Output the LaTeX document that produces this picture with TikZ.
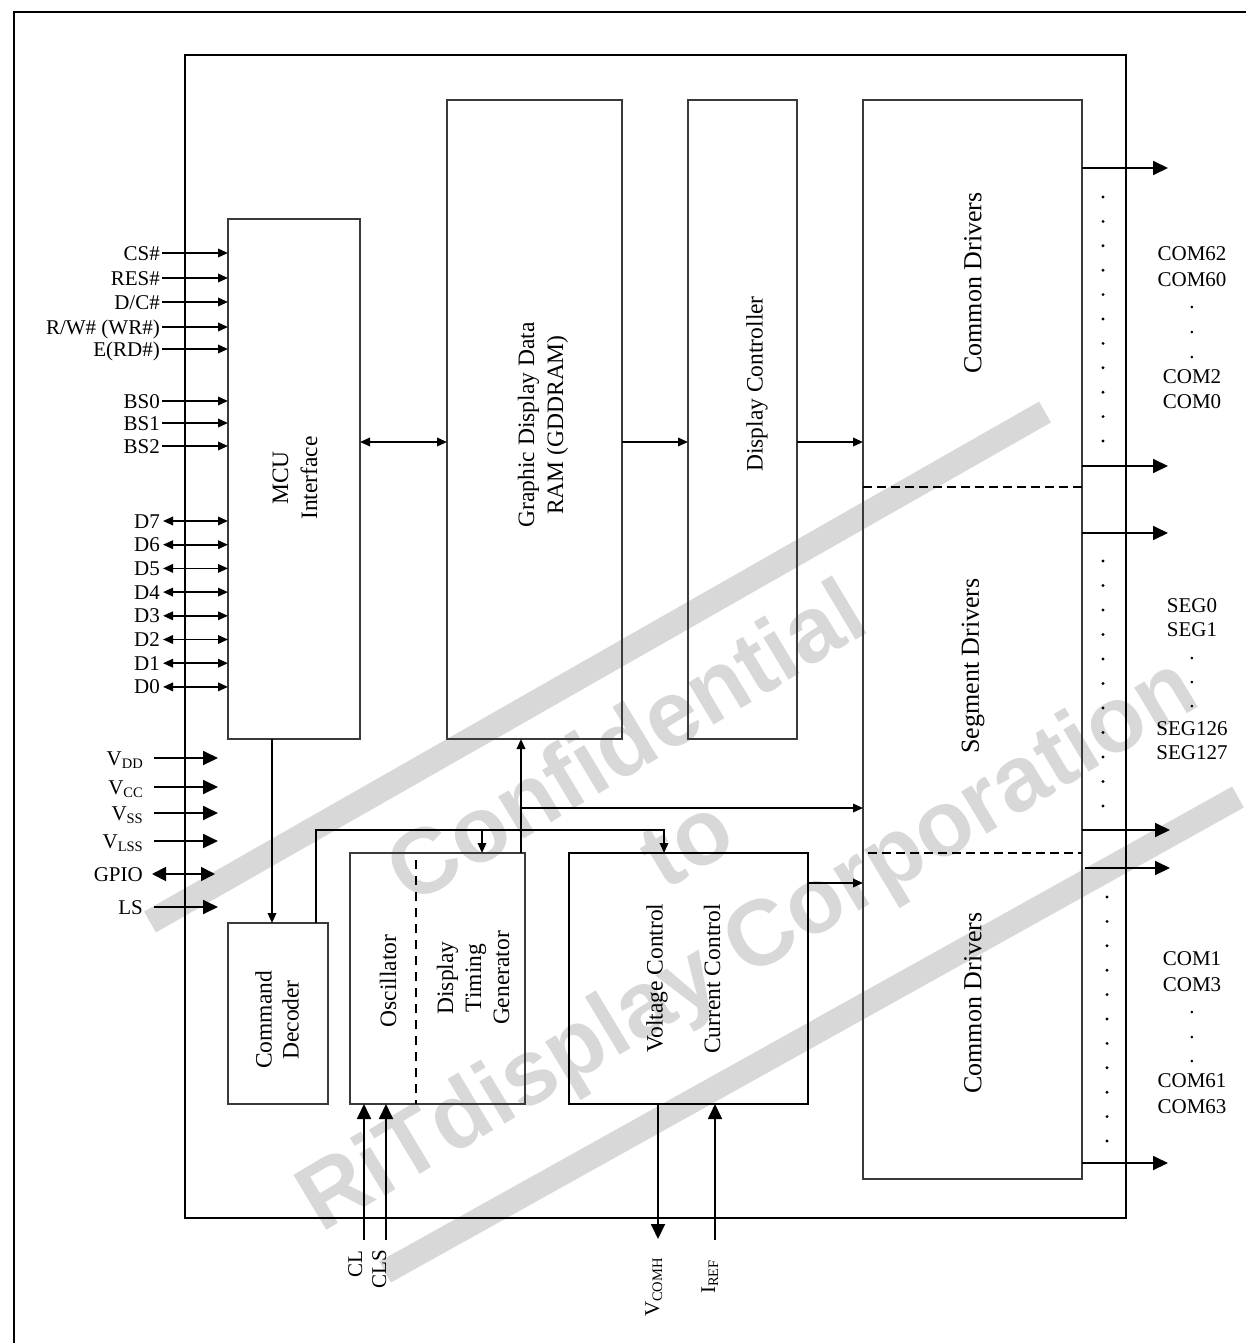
\documentclass[tikz,border=0pt]{standalone}
\usepackage{fontspec}
\setmainfont{Liberation Serif}
\newfontfamily\wmfont{Liberation Sans}
\usetikzlibrary{arrows.meta}
\newcommand\lsub[1]{\raisebox{-3pt}{\fontsize{14.5}{15}\selectfont #1}}
\definecolor{wmgray}{HTML}{D8D8D8}
\definecolor{boxgray}{HTML}{3A3A3A}
\begin{document}
\begin{tikzpicture}[x=1pt,y=-1pt,
  blockbox/.style={draw=boxgray, line width=1.6pt, inner sep=0pt, outer sep=0pt, anchor=north west},
  conn/.style={line width=1.8pt, black},
  arrS/.style={conn, -{Triangle[length=10pt,width=8.5pt]}},
  dblS/.style={conn, {Triangle[length=10pt,width=8.5pt]}-{Triangle[length=10pt,width=8.5pt]}},
  arrB/.style={conn, -{Triangle[length=15pt,width=14pt]}},
  dblB/.style={conn, {Triangle[length=14pt,width=14pt]}-{Triangle[length=14pt,width=14pt]}},
  sidelbl/.style={anchor=east, inner sep=0pt, font=\fontsize{21}{24}\selectfont, text height=14pt, text depth=0pt},
  pinlbl/.style={anchor=base, inner sep=0pt, font=\fontsize{21}{24}\selectfont},
  blklbl/.style={rotate=90, align=center, inner sep=0pt, font=\fontsize{23.5}{29}\selectfont},
  drvlbl/.style={rotate=90, inner sep=0pt, font=\fontsize{26}{30}\selectfont},
  botlbl/.style={rotate=90, anchor=east, inner sep=0pt, font=\fontsize{21}{24}\selectfont, text height=14pt, text depth=0pt},
  dashsep/.style={line width=1.5pt, dash pattern=on 9pt off 5pt},
  wmband/.style={wmgray, line width=24pt}
]
\useasboundingbox (0,0) rectangle (1246,1343);

% watermark
\draw[wmband] (150,922) -- (1045,412);
\draw[wmband] (385,1272) -- (1238,797);
\node[text=wmgray, rotate=31, align=center, inner sep=0pt,
      font=\wmfont\bfseries\fontsize{93}{117}\selectfont] (wm) at (690,848)
      {Confidential\\to\\RiTdisplay Corporation};

% page frame (right and bottom sides lie beyond the page) and chip outline
\draw[line width=1.2pt] (14,12) rectangle (1256,1356);
\node[draw=black, line width=1.8pt, inner sep=0pt, outer sep=0pt, anchor=north west,
      minimum width=941pt, minimum height=1163pt] (chip) at (185,55) {};

% blocks
\node[blockbox, minimum width=132pt, minimum height=520pt] (mcu) at (228,219) {};
\node[blockbox, minimum width=175pt, minimum height=639pt] (gddram) at (447,100) {};
\node[blockbox, minimum width=109pt, minimum height=639pt] (dispctl) at (688,100) {};
\node[blockbox, minimum width=219pt, minimum height=1079pt] (drv) at (863,100) {};
\node[blockbox, minimum width=100pt, minimum height=181pt] (cmd) at (228,923) {};
\node[blockbox, minimum width=175pt, minimum height=251pt] (osc) at (350,853) {};
\node[blockbox, draw=black, minimum width=239pt, minimum height=251pt] (volt) at (569,853) {};

% block texts
\node[blklbl] (tmcu) at (295,478) {MCU\\Interface};
\node[blklbl] (tgdd) at (543,425) {Graphic Display Data\\RAM (GDDRAM)};
\node[blklbl] (tdc) at (757,384) {Display Controller};
\node[drvlbl] (tcd1) at (973,283) {Common Drivers};
\node[drvlbl] (tsd) at (973,666) {Segment Drivers};
\node[drvlbl] (tcd2) at (973,1003) {Common Drivers};
\node[blklbl, font=\fontsize{23.5}{27}\selectfont] (tcmd) at (277,1020) {Command\\Decoder};
\node[blklbl] (tosc) at (388,981) {Oscillator};
\node[blklbl, font=\fontsize{23.5}{28}\selectfont] (tdtg) at (473,978) {Display\\Timing\\Generator};
\node[blklbl] (tvc) at (657,978) {Voltage Control};
\node[blklbl] (tcc) at (712,979) {Current Control};

% dashed separators
\draw[dashsep] (drv.west |- 0,487) -- (drv.east |- 0,487);
\draw[dashsep] (868,853) -- (drv.east |- 0,853);
\draw[dashsep, dash pattern=on 9pt off 7pt] (416,860) -- (osc.south -| 416,0);

% MCU input signals
\node[sidelbl] (lcs) at (160,253) {CS\#};
\node[sidelbl] (lres) at (160,278) {RES\#};
\node[sidelbl] (ldc) at (160,302) {D/C\#};
\node[sidelbl] (lrw) at (160,327) {R/W\# (WR\#)};
\node[sidelbl] (le) at (160,349) {E(RD\#)};
\node[sidelbl] (lbs0) at (160,401) {BS0};
\node[sidelbl] (lbs1) at (160,423) {BS1};
\node[sidelbl] (lbs2) at (160,446) {BS2};
\foreach \n in {lcs,lres,ldc,lrw,le,lbs0,lbs1,lbs2}
  \draw[arrS] ([xshift=2pt]\n.east) -- (\n.east -| mcu.west);

% data bus
\node[sidelbl] (ld7) at (160,521) {D7};
\node[sidelbl] (ld6) at (160,544.7) {D6};
\node[sidelbl] (ld5) at (160,568.4) {D5};
\node[sidelbl] (ld4) at (160,592.1) {D4};
\node[sidelbl] (ld3) at (160,615.8) {D3};
\node[sidelbl] (ld2) at (160,639.5) {D2};
\node[sidelbl] (ld1) at (160,663.2) {D1};
\node[sidelbl] (ld0) at (160,686.9) {D0};
\foreach \n in {ld7,ld6,ld5,ld4,ld3,ld2,ld1,ld0}
  \draw[dblS] ([xshift=3pt]\n.east) -- (\n.east -| mcu.west);

% power and misc pins
\node[sidelbl] (lvdd) at (143,758) {V\lsub{DD}};
\node[sidelbl] (lvcc) at (143,787) {V\lsub{CC}};
\node[sidelbl] (lvss) at (143,813) {V\lsub{SS}};
\node[sidelbl] (lvlss) at (143,841) {V\lsub{LSS}};
\node[sidelbl] (lgpio) at (143,874) {GPIO};
\node[sidelbl] (lls) at (143,907) {LS};
\foreach \n in {lvdd,lvcc,lvss,lvlss,lls}
  \draw[arrB] ([xshift=11pt]\n.east) -- ([xshift=75pt]\n.east);
\draw[dblB] ([xshift=9pt]lgpio.east) -- ([xshift=72pt]lgpio.east);

% internal data flow
\draw[dblS] (mcu.east |- 0,442) -- (gddram.west |- 0,442);
\draw[arrS] (gddram.east |- 0,442) -- (dispctl.west |- 0,442);
\draw[arrS] (dispctl.east |- 0,442) -- (drv.west |- 0,442);
\draw[arrS] (mcu.south -| 272,0) -- (cmd.north -| 272,0);
\draw[arrS] (cmd.north -| 316,0) -- (316,830) -- (664,830) -- (volt.north -| 664,0);
\draw[arrS] (482,830) -- (osc.north -| 482,0);
\draw[arrS] (osc.north -| 521,0) -- (gddram.south -| 521,0);
\draw[arrS] (521,808) -- (drv.west |- 0,808);
\draw[arrS] (volt.east |- 0,883) -- (drv.west |- 0,883);

% bottom pins
\coordinate (pcl) at (364,1240);
\coordinate (pcls) at (386,1240);
\coordinate (pvcomh) at (658,1239);
\coordinate (piref) at (715,1240);
\draw[arrB] (pcl) -- (osc.south -| pcl);
\draw[arrB] (pcls) -- (osc.south -| pcls);
\draw[arrB] (volt.south -| pvcomh) -- (pvcomh);
\draw[arrB] (piref) -- (volt.south -| piref);
\node[botlbl] (lcl) at (355,1250) {CL};
\node[botlbl] (lcls) at (379,1250) {CLS};
\node[botlbl] (lvcomh) at (652,1258) {V\lsub{COMH}};
\node[botlbl] (liref) at (708,1260) {I\lsub{REF}};

% driver outputs
\foreach \y/\xe in {168/1168,466/1168,533/1168,830/1170,1163/1168}
  \draw[arrB] (drv.east |- 0,\y) -- (\xe,\y);
\coordinate (o868) at (1085,868);
\draw[arrB] (o868) -- (1170,868);

% dots
\foreach \i in {0,...,10} {
  \fill (1103,{197+24.4*\i}) circle (1.6pt);
  \fill (1103,{561+24.5*\i}) circle (1.6pt);
  \fill (1107,{897+24.4*\i}) circle (1.6pt);
}

% output pin labels
\foreach \t/\y [count=\k] in {COM62/260,COM60/286,./308,./333,./358,COM2/383,COM0/408}
  \node[pinlbl] (pa\k) at (1192,\y) {\t};
\foreach \t/\y [count=\k] in {SEG0/612,SEG1/636,./659,./683,./707,SEG126/735,SEG127/759}
  \node[pinlbl] (pb\k) at (1192,\y) {\t};
\foreach \t/\y [count=\k] in {COM1/965,COM3/991,./1013,./1038,./1062,COM61/1087,COM63/1113}
  \node[pinlbl] (pc\k) at (1192,\y) {\t};
\end{tikzpicture}
\end{document}
